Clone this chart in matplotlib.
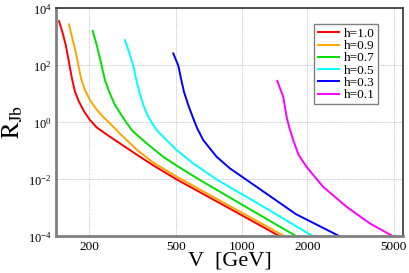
import matplotlib
matplotlib.use("Agg")
import matplotlib.pyplot as plt

plt.rcParams['font.family'] = 'serif'
plt.rcParams['font.serif'] = ['Liberation Serif', 'DejaVu Serif']
plt.rcParams['mathtext.fontset'] = 'stix'

# values (V in GeV, R_Jb)
h_labels = ['h=1.0', 'h=0.9', 'h=0.7', 'h=0.5', 'h=0.3', 'h=0.1']
colors = ['#ff0000', '#ffa500', '#00e000', '#00ffff', '#0000ff', '#ff00ff']

v_h10 = [145.2, 150.4, 155.9, 160.2, 163.2, 167.1, 172.0, 179.4, 189.7, 201.5,
         216.3, 244.4, 276.6, 329.9, 393.2, 503.4, 865.5, 1499]
r_h10 = [3583, 1510, 515, 176, 78.5, 30.5, 11.85, 5.28, 2.355, 1.204,
         0.668, 0.344, 0.1833, 0.0742, 0.031, 0.01, 1.024e-3, 1e-4]

v_h09 = [161.4, 167.1, 173.2, 178.1, 183.2, 191.1, 201.5, 214.0, 228.8, 248.9,
         276.6, 329.9, 393.2, 503.4, 884, 1580]
r_h09 = [2746, 886, 300, 102.4, 35.0, 13.6, 6.06, 3.10, 1.732, 0.922,
         0.4046, 0.1111, 0.0389, 0.01254, 1.156e-3, 1e-4]

v_h07 = [207.3, 216.3, 223.9, 229.4, 236.0, 246.8, 262.4, 294.1, 315.7, 366.8,
         436.9, 503.4, 637.2, 1069, 1788]
r_h07 = [1637, 515, 176, 78.5, 30.5, 11.85, 4.05, 1.058, 0.503, 0.1833,
         0.0621, 0.0305, 0.01, 9.84e-4, 1e-4]

v_h05 = [291.6, 307.4, 318.3, 327.5, 339.2, 353.8, 372.9, 386.6, 407.6, 436.9,
         503.4, 600, 768.1, 1280, 2130]
r_h05 = [772, 229.8, 100, 35.0, 11.85, 4.05, 1.572, 1.0, 0.537, 0.3125,
         0.1067, 0.0364, 0.01, 1.024e-3, 1e-4]

v_h03 = [485.7, 512.0, 526.8, 543.8, 569.1, 600, 625.8, 666.7, 768.1, 884.0,
         1046.6, 1213, 1775, 2825]
r_h03 = [263.7, 100, 35.0, 11.85, 4.05, 1.381, 0.616, 0.2393, 0.0621, 0.0243,
         0.01, 4.57e-3, 6.06e-4, 1e-4]

v_h01 = [1457, 1552, 1609, 1657.6, 1725.5, 1828, 1987, 2216, 2367, 3032, 3878, 4961]
r_h01 = [28.8, 7.91, 1.572, 0.631, 0.2393, 0.0712, 0.02767, 0.01, 0.0055,
         1.093e-3, 2.86e-4, 1e-4]

series = [(v_h10, r_h10), (v_h09, r_h09), (v_h07, r_h07),
          (v_h05, r_h05), (v_h03, r_h03), (v_h01, r_h01)]

x_ticks = [200, 500, 1000, 2000, 5000]
y_ticks = [1e-4, 1e-2, 1e0, 1e2, 1e4]

fig = plt.figure(figsize=(4.09, 2.73), dpi=100)
ax = fig.add_axes([0.137, 0.134, 0.848, 0.835])

for (v, r), c, lab in zip(series, colors, h_labels):
    ax.plot(v, r, color=c, lw=1.4, label=lab)

ax.set_xscale('log')
ax.set_yscale('log')
ax.set_xlim(140.7, 5495)
ax.set_ylim(1e-4, 1e4)
ax.set_xticks(x_ticks)
ax.set_xticklabels([str(t) for t in x_ticks])
ax.set_yticks(y_ticks)
ax.minorticks_off()
ax.tick_params(which='both', length=0)
ax.tick_params(axis='x', labelsize=9.5, pad=3)
ax.tick_params(axis='y', labelsize=9, pad=3)

ax.grid(True, color='#bcbcbc', lw=0.6, ls=(0, (1, 1)))
ax.set_axisbelow(True)

for s in ['left', 'bottom']:
    ax.spines[s].set_color('#808080')
    ax.spines[s].set_linewidth(2)
for s in ['top', 'right']:
    ax.spines[s].set_color('#333333')
    ax.spines[s].set_linewidth(1.2)

ax.set_xlabel('V  [GeV]', fontsize=16, labelpad=-1)
ax.set_ylabel(r'$\mathrm{R}_{\mathrm{Jb}}$', fontsize=18, labelpad=2)

leg = ax.legend(loc='upper right', bbox_to_anchor=(0.929, 0.930), borderaxespad=0,
                fontsize=9.5, frameon=True, fancybox=False, framealpha=1,
                edgecolor='#808080', labelspacing=0.0, handlelength=1.6,
                handletextpad=0.4, borderpad=0.25)
leg.get_frame().set_linewidth(1.0)

fig.savefig('out.png', dpi=100)
